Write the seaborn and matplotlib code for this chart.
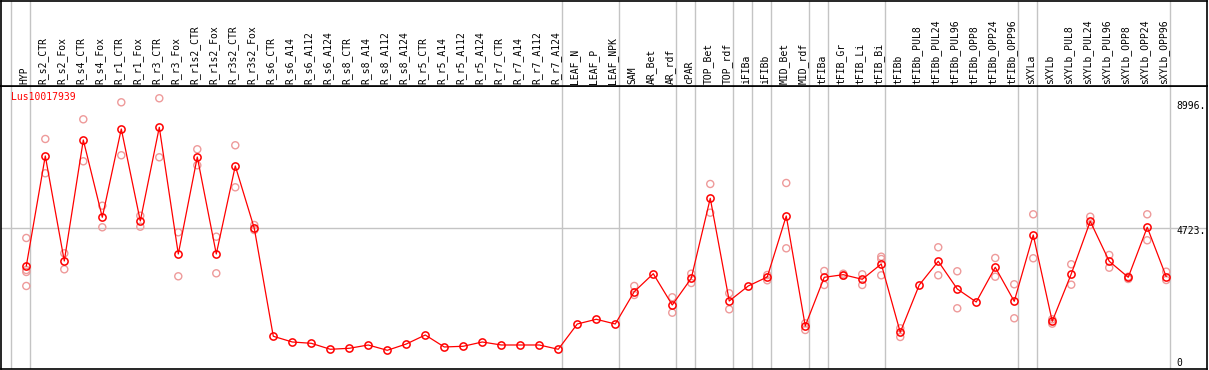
import matplotlib
matplotlib.use("Agg")
import pandas as pd
import seaborn as sns
import matplotlib.pyplot as plt

# ---------------------------------------------------------------------
# Data
# ---------------------------------------------------------------------
gene_id = "Lus10017939"

samples = [
    "HYP", "R_s2_CTR", "R_s2_Fox", "R_s4_CTR", "R_s4_Fox", "R_r1_CTR", "R_r1_Fox",
    "R_r3_CTR", "R_r3_Fox", "R_r1s2_CTR", "R_r1s2_Fox", "R_r3s2_CTR", "R_r3s2_Fox",
    "R_s6_CTR", "R_s6_A14", "R_s6_A112", "R_s6_A124", "R_s8_CTR", "R_s8_A14",
    "R_s8_A112", "R_s8_A124", "R_r5_CTR", "R_r5_A14", "R_r5_A112", "R_r5_A124",
    "R_r7_CTR", "R_r7_A14", "R_r7_A112", "R_r7_A124", "LEAF_N", "LEAF_P", "LEAF_NPK",
    "SAM", "AR_Bet", "AR_rdf", "cPAR", "TOP_Bet", "TOP_rdf", "iFIBa", "iFIBb",
    "MID_Bet", "MID_rdf", "tFIBa", "tFIB_Gr", "tFIB_Li", "tFIB_Bi", "tFIBb",
    "tFIBb_PUL8", "tFIBb_PUL24", "tFIBb_PUL96", "tFIBb_OPP8", "tFIBb_OPP24",
    "tFIBb_OPP96", "sXYLa", "sXYLb", "sXYLb_PUL8", "sXYLb_PUL24", "sXYLb_PUL96",
    "sXYLb_OPP8", "sXYLb_OPP24", "sXYLb_OPP96",
]

mean_expr = [
    3429, 7202, 3601, 7750, 5100, 8128, 4973, 8186, 3841, 7167, 3841, 6859, 4722,
    1019, 823, 778, 573, 607, 720, 538, 754, 1063, 652, 676, 823,
    720, 720, 720, 573, 1440, 1602, 1440,
    2548, 3165, 2092, 3008, 5751, 2229, 2744, 3052,
    5144, 1372, 3042, 3131, 2973, 3498, 1156,
    2778, 3591, 2641, 2195, 3385, 2219,
    4493, 1533, 3155, 4962, 3591, 3042, 4757, 3062,
]

replicates = [
    [4390, 3292, 3224, 2744], [7785, 6609], [3865, 3316], [8460, 7020], [5497, 4757],
    [9043, 7226], [5154, 4777], [9181, 7157], [4585, 3076], [7432, 6883],
    [4434, 3179], [7569, 6128], [4835, 4664],
    [], [], [], [], [], [], [], [], [], [], [], [], [], [], [], [], [], [], [],
    [2744, 2435], [], [2356, 1828], [3165, 2846], [6242, 5257], [2493, 1944], [],
    [3121, 2939], [6276, 4036], [1464, 1235], [3258, 2778], [3165, 3097],
    [3145, 2778], [3748, 3669, 3110], [1293, 995],
    [], [4071, 3110], [3248, 1979], [], [3704, 3062], [2802, 1636],
    [5202, 3694], [1602, 1451], [3488, 2788], [5120, 4835], [3807, 3371],
    [3062, 2984], [5202, 4311], [3234, 2949],
]

# group separators fall just right of these samples ("" = left of the first one)
group_ends = [
    "", "HYP", "R_r7_A124", "LEAF_NPK", "AR_rdf", "cPAR", "TOP_rdf", "iFIBa",
    "iFIBb", "MID_rdf", "tFIBa", "tFIB_Bi", "tFIBb_OPP96", "sXYLa", "sXYLb_OPP96",
]

ytick_values = [8996, 4723, 0]
ytick_labels = ["8996.", "4723.", "0"]

# ---------------------------------------------------------------------
# Tidy frames
# ---------------------------------------------------------------------
df_mean = pd.DataFrame({"pos": range(len(samples)), "sample": samples, "expr": mean_expr})
df_rep = pd.DataFrame(
    [(i, s, v) for i, (s, reps) in enumerate(zip(samples, replicates)) for v in reps],
    columns=["pos", "sample", "expr"],
)

# ---------------------------------------------------------------------
# Figure
# ---------------------------------------------------------------------
sns.set_style("white")
plt.rcParams["font.family"] = ["DejaVu Sans Mono", "DejaVu Sans"]

W, H = 1209, 370
fig = plt.figure(figsize=(W / 100, H / 100), dpi=100)

# pixel geometry of the reference
left_px, right_px = 0.5, 1206.7
head_top, head_bot, plot_bot = 0.5, 86, 368.7
ax = fig.add_axes([left_px / W, (H - plot_bot) / H,
                   (right_px - left_px) / W, (plot_bot - head_bot) / H])
hax = fig.add_axes([left_px / W, (H - head_bot) / H,
                    (right_px - left_px) / W, (head_bot - head_top) / H])

xlim = (-1.358, 62.13)
ylim = (-93, 9602)

red = "#ff0000"
pink = "#ee9a9a"
grey = "#c4c4c4"

# Grid lines
sep_pos = [samples.index(s) + 0.22 if s else -0.82 for s in group_ends]
for x in sep_pos:
    ax.axvline(x, color=grey, lw=1, zorder=0)
    hax.axvline(x, color=grey, lw=1, zorder=0)
ax.axhline(ytick_values[1], color=grey, lw=1, zorder=0)

# Replicates
sns.scatterplot(
    data=df_rep, x="pos", y="expr", ax=ax, marker="o", s=26,
    color=pink, facecolor="none", edgecolor=pink, linewidth=1.0, zorder=2,
)

# Mean profile
sns.lineplot(
    data=df_mean, x="pos", y="expr", ax=ax, color=red, lw=0.9, errorbar=None,
    marker="o", markersize=5.2, markerfacecolor="none", markeredgecolor=red,
    markeredgewidth=1.1, zorder=3,
)

ax.set_xlim(*xlim)
ax.set_ylim(*ylim)
ax.set_xticks([])
ax.set_yticks([])
ax.set_xlabel("")
ax.set_ylabel("")

# Y labels drawn inside the right edge
for v, lab in zip(ytick_values, ytick_labels):
    dy = 3.3 if v == 0 else -2.4
    ax.annotate(lab, xy=(1, v), xycoords=("axes fraction", "data"),
                xytext=(-30, dy), textcoords="offset pixels",
                ha="left", va="center", fontsize=7, color="black")

# Gene id
ax.text(10 / (right_px - left_px), 1 - (97.3 - head_bot) / (plot_bot - head_bot),
        gene_id, transform=ax.transAxes, ha="left", va="center",
        fontsize=7, color=red)

# Header with rotated sample names
hax.set_xlim(*xlim)
hax.set_ylim(head_bot, head_top)
hax.set_xticks([])
hax.set_yticks([])
for i, s in enumerate(samples):
    hax.text(i - 0.12, 84.5, s, rotation=90, ha="center", va="bottom",
             fontsize=7, color="black")

for a in (ax, hax):
    for sp in a.spines.values():
        sp.set_color("black")
        sp.set_linewidth(1.2)

fig.savefig("out.png", dpi=100)
